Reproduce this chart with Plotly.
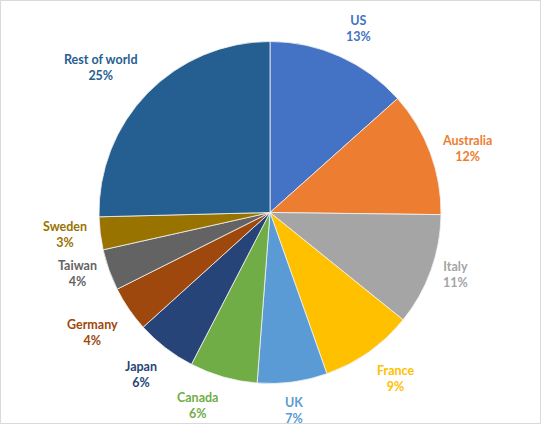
import math
import plotly.graph_objects as go

# share of total (labels show rounded %)
countries = ["US", "Australia", "Italy", "France", "UK", "Canada",
             "Japan", "Germany", "Taiwan", "Sweden", "Rest of world"]
shares = [13.4, 11.8, 10.6, 8.8, 6.6, 6.4, 5.7, 4.3, 3.9, 3.1, 25.4]
colors = ["#4472C4", "#ED7D31", "#A5A5A5", "#FFC000", "#5B9BD5", "#70AD47",
          "#264478", "#9E480E", "#636363", "#997300", "#255E91"]

W, H = 542, 425
ML, MR, MT, MB = 99, 101, 41, 41
PW = W - ML - MR
PH = H - MT - MB
R = min(PW, PH) / 2
GAP = 11  # px between pie edge and label box

fig = go.Figure(go.Pie(
    labels=countries, values=shares, sort=False, direction="clockwise",
    marker=dict(colors=colors, line=dict(color="#F2F2F2", width=0.8)),
    textinfo="none", hoverinfo="label+percent", showlegend=False,
))

# Excel-style outside labels: box corner sits just past the edge at mid angle
total = sum(shares)
cum = 0
annotations = []
for name, val, col in zip(countries, shares, colors):
    mid = (cum + val / 2) / total * 2 * math.pi
    cum += val
    s, c = math.sin(mid), math.cos(mid)
    px = (R + GAP) * s
    py = (R + GAP) * c
    xa = "left" if s > 0.25 else ("right" if s < -0.25 else "center")
    ya = "bottom" if c > 0.4 else ("top" if c < -0.4 else "middle")
    pct = round(val / total * 100)
    annotations.append(dict(
        x=0.5 + px / PW, y=0.5 + py / PH, xref="paper", yref="paper",
        xanchor=xa, yanchor=ya, showarrow=False, align="center",
        text=f"<b>{name}<br>{pct}%</b>",
        font=dict(family="Lato", size=12.5, color=col),
    ))

fig.update_layout(
    width=W, height=H,
    margin=dict(l=ML, r=MR, t=MT, b=MB),
    paper_bgcolor="white", plot_bgcolor="white",
    annotations=annotations,
    shapes=[dict(type="rect", xref="paper", yref="paper",
                 x0=-(ML - 0.5) / PW, x1=1 + (MR - 1.5) / PW,
                 y0=-(MB - 1.5) / PH, y1=1 + (MT - 0.5) / PH,
                 line=dict(color="#D9D9D9", width=1))],
)

# drop the browser's default 8px body margin so the chart fills the window
fig.write_html("out.html", config={"displayModeBar": False},
               post_script="document.body.style.margin='0';")
